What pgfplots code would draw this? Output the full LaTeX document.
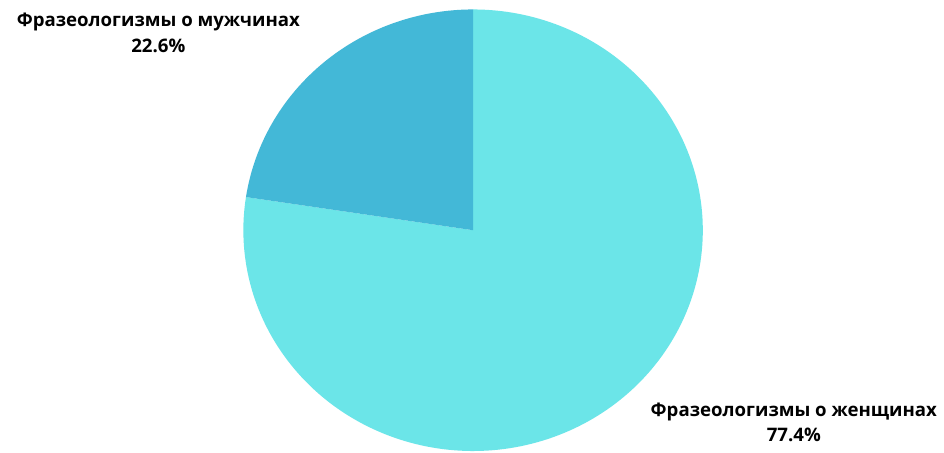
\documentclass[border=0pt]{standalone}
\usepackage{pgfplots}
\usepackage{pgfplotstable}
\pgfplotsset{compat=1.18}
\usepackage{fontspec}
\setmainfont{Open Sans}
\definecolor{mencol}{HTML}{43B8D7}
\definecolor{womcol}{HTML}{6BE5E8}
\pgfplotstableread{
label value
men 22.6
women 77.4
}\piedata
\begin{document}
\pgfplotstablegetelem{0}{value}\of\piedata \let\menval\pgfplotsretval
\pgfplotstablegetelem{1}{value}\of\piedata \let\womval\pgfplotsretval
\pgfmathsetmacro\angA{90+3.6*\menval}
\pgfmathsetmacro\angB{\angA+3.6*\womval}
\begin{tikzpicture}
\begin{axis}[
  scale only axis, width=944bp, height=455bp,
  xmin=0, xmax=944, ymin=0, ymax=455,
  hide axis, clip=false,
]
\addplot[draw=none, fill=white] coordinates {(0,0) (944,0) (944,455) (0,455)} -- cycle;
\addplot[fill=womcol, draw=none, domain=\angA:\angB, samples=200, variable=\t]
  ({470.5+231*cos(\t)},{223.5+222*sin(\t)}) -- (axis cs:470.5,223.5) -- cycle;
\addplot[fill=mencol, draw=none, domain=90:\angA, samples=80, variable=\t]
  ({470.5+231*cos(\t)},{223.5+222*sin(\t)}) -- (axis cs:470.5,223.5) -- cycle;
\node[align=center, font=\fontsize{18.8}{25.5}\selectfont\bfseries, inner sep=0pt]
  at (axis cs:154,422) {Фразеологизмы о мужчинах\\\menval\%};
\node[align=center, font=\fontsize{18.8}{25.5}\selectfont\bfseries, inner sep=0pt]
  at (axis cs:793,30) {Фразеологизмы о женщинах\\\womval\%};
\end{axis}
\end{tikzpicture}
\end{document}
